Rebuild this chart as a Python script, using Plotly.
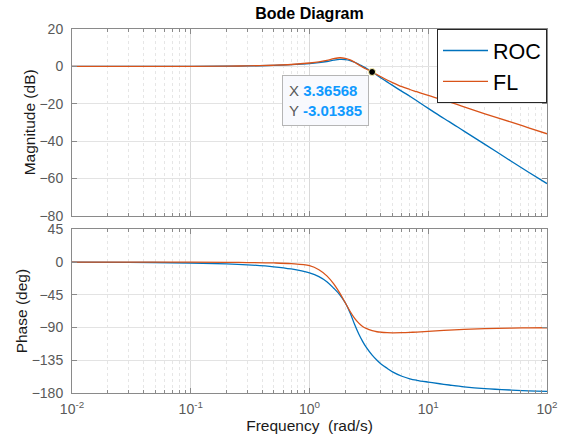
import plotly.graph_objects as go

# ---- data ----
freq = [0.01, 0.03, 0.1, 0.2, 0.3, 0.5, 0.7, 1.0, 1.2, 1.4, 1.6, 1.8, 2.0, 2.2, 2.4, 2.6, 2.8,
        3.0, 3.37, 3.7, 4.0, 4.5, 5.0, 6.0, 7.0, 8.0, 10, 12.5, 15, 20, 30, 50, 70, 100]

roc_mag = [0.0, 0.0, 0.02, 0.1, 0.2, 0.5, 0.9, 1.5, 2.0, 2.6, 3.3, 3.7, 3.6, 3.1, 2.2, 1.1, -0.05,
           -1.0, -3.0, -4.75, -6.2, -8.3, -10.2, -13.4, -16.0, -18.4, -22.5, -26.5, -29.6, -34.7,
           -41.8, -50.8, -56.7, -62.8]

fl_mag = [0.0, 0.0, 0.03, 0.12, 0.25, 0.6, 1.0, 1.8, 2.4, 3.2, 4.1, 4.6, 4.3, 3.5, 2.2, 0.8, -0.45,
          -1.4, -3.0, -4.4, -5.6, -7.3, -8.7, -10.9, -12.4, -13.6, -15.6, -17.4, -19.0, -21.7,
          -25.4, -29.9, -32.9, -36.1]

roc_phase = [-0.2, -0.4, -1.3, -2.5, -3.8, -6.5, -9.5, -15.0, -20.0, -27.0, -36.0, -45.0, -56.0,
             -70.0, -86.0, -99.0, -109.0, -117.0, -128.0, -135.0, -140.0, -146.0, -151.0, -157.0,
             -160.5, -162.5, -165.0, -167.3, -169.0, -171.5, -174.0, -176.0, -177.0, -177.7]

fl_phase = [-0.05, -0.1, -0.2, -0.45, -0.7, -1.2, -2.2, -5.0, -10.5, -19.0, -30.0, -42.7, -56.0,
            -68.0, -77.5, -84.0, -88.5, -91.2, -94.3, -95.8, -96.5, -97.1, -97.3, -97.1, -96.7,
            -96.2, -95.2, -94.2, -93.5, -92.5, -91.5, -90.8, -90.5, -90.3]

tip_x = [3.36568]
tip_y = [-3.01385]

series_names = ["ROC", "FL"]
mag_ticks = [-80, -60, -40, -20, 0, 20]
phase_ticks = [-180, -135, -90, -45, 0, 45]
freq_ticks = [0.01, 0.1, 1, 10, 100]
freq_ticktext = ["10<sup>-2</sup>", "10<sup>-1</sup>", "10<sup>0</sup>", "10<sup>1</sup>", "10<sup>2</sup>"]

# ---- styling ----
C_ROC = "#0072BD"
C_FL = "#D95319"
FONT = "Liberation Sans, Arial, Helvetica, sans-serif"
TICK_COLOR = "#595959"
AXIS_COLOR = "#8a8a8a"
GRID = "#e3e3e3"

minor_vals = [m * 10 ** e for e in range(-2, 2) for m in range(2, 10)]

fig = go.Figure()

fig.add_trace(go.Scatter(x=freq, y=roc_mag, name=series_names[0], mode="lines",
                         line=dict(color=C_ROC, width=1.3, shape="spline"),
                         xaxis="x", yaxis="y"))
fig.add_trace(go.Scatter(x=freq, y=fl_mag, name=series_names[1], mode="lines",
                         line=dict(color=C_FL, width=1.3, shape="spline"),
                         xaxis="x", yaxis="y"))
fig.add_trace(go.Scatter(x=freq, y=roc_phase, name=series_names[0], mode="lines",
                         line=dict(color=C_ROC, width=1.3, shape="spline"),
                         xaxis="x2", yaxis="y2", showlegend=False))
fig.add_trace(go.Scatter(x=freq, y=fl_phase, name=series_names[1], mode="lines",
                         line=dict(color=C_FL, width=1.3, shape="spline"),
                         xaxis="x2", yaxis="y2", showlegend=False))
fig.add_trace(go.Scatter(x=tip_x, y=tip_y, mode="markers", showlegend=False,
                         marker=dict(color="black", size=7, line=dict(color="#fff7b0", width=1)),
                         xaxis="x", yaxis="y"))

xcommon = dict(type="log", range=[-2, 2], tickmode="array", tickvals=freq_ticks,
               showline=True, linecolor=AXIS_COLOR, linewidth=1, mirror="ticks",
               ticks="inside", ticklen=5, tickcolor=AXIS_COLOR,
               showgrid=True, gridcolor="#d9d9d9", gridwidth=1, zeroline=False,
               minor=dict(tickmode="array", tickvals=minor_vals, ticks="inside", ticklen=3,
                          tickcolor=AXIS_COLOR, showgrid=True, gridcolor="#e6e6e6",
                          griddash="dot", gridwidth=1),
               tickfont=dict(family=FONT, size=14, color=TICK_COLOR))

ycommon = dict(showline=True, linecolor=AXIS_COLOR, linewidth=1, mirror="ticks",
               ticks="inside", ticklen=5, tickcolor=AXIS_COLOR,
               showgrid=True, gridcolor=GRID, gridwidth=1, zeroline=False,
               tickfont=dict(family=FONT, size=14, color=TICK_COLOR),
               ticklabelstandoff=5)

fig.update_layout(
    width=574, height=442,
    margin=dict(l=72, r=27, t=29, b=49, autoexpand=False),
    paper_bgcolor="white", plot_bgcolor="white",
    font=dict(family=FONT, color="#1a1a1a"),
    title=dict(text="<b>Bode Diagram</b>", x=0.5, xref="paper", xanchor="center",
               y=1 - 13 / 442, yref="container", yanchor="middle",
               font=dict(family=FONT, size=16, color="black")),
    xaxis=dict(**xcommon, domain=[0, 1], anchor="y", showticklabels=False),
    yaxis=dict(**ycommon, domain=[0.487, 1], anchor="x", range=[-80, 20],
               tickmode="array", tickvals=mag_ticks,
               title=dict(text="Magnitude (dB)", standoff=0,
                          font=dict(family=FONT, size=15.5, color="#1a1a1a"))),
    xaxis2=dict(**xcommon, domain=[0, 1], anchor="y2", ticktext=freq_ticktext,
                ticklabelstandoff=3,
                title=dict(text="Frequency\u00a0\u00a0(rad/s)", standoff=4,
                           font=dict(family=FONT, size=15.5, color="#1a1a1a"))),
    yaxis2=dict(**ycommon, domain=[0, 0.4497], anchor="x2", range=[-180, 45],
                tickmode="array", tickvals=phase_ticks,
                title=dict(text="Phase (deg)", standoff=0,
                           font=dict(family=FONT, size=15.5, color="#1a1a1a"))),
    legend=dict(x=1, xanchor="right", y=1, yanchor="top", xref="paper", yref="paper",
                bgcolor="white", bordercolor="#262626", borderwidth=1,
                font=dict(family=FONT, size=21.5, color="black"),
                itemwidth=45, tracegroupgap=0),
    showlegend=True,
)

fig.add_annotation(
    xref="paper", yref="paper", x=(282 - 72) / 475, y=(393 - 75) / 364,
    xanchor="left", yanchor="top", showarrow=False, align="left",
    text=("<span style='color:#595959'>X</span> <b><span style='color:#0f99ff'>3.36568</span></b><br>"
          "<span style='color:#595959'>Y</span> <b><span style='color:#0f99ff'>-3.01385</span></b>"),
    font=dict(family=FONT, size=15),
    bgcolor="#f8f9fd", bordercolor="#b5b5b5", borderwidth=1, borderpad=6,
)

fig.write_html("out.html", config={"displayModeBar": False},
               post_script="document.body.style.margin='0';document.body.style.padding='0';")
